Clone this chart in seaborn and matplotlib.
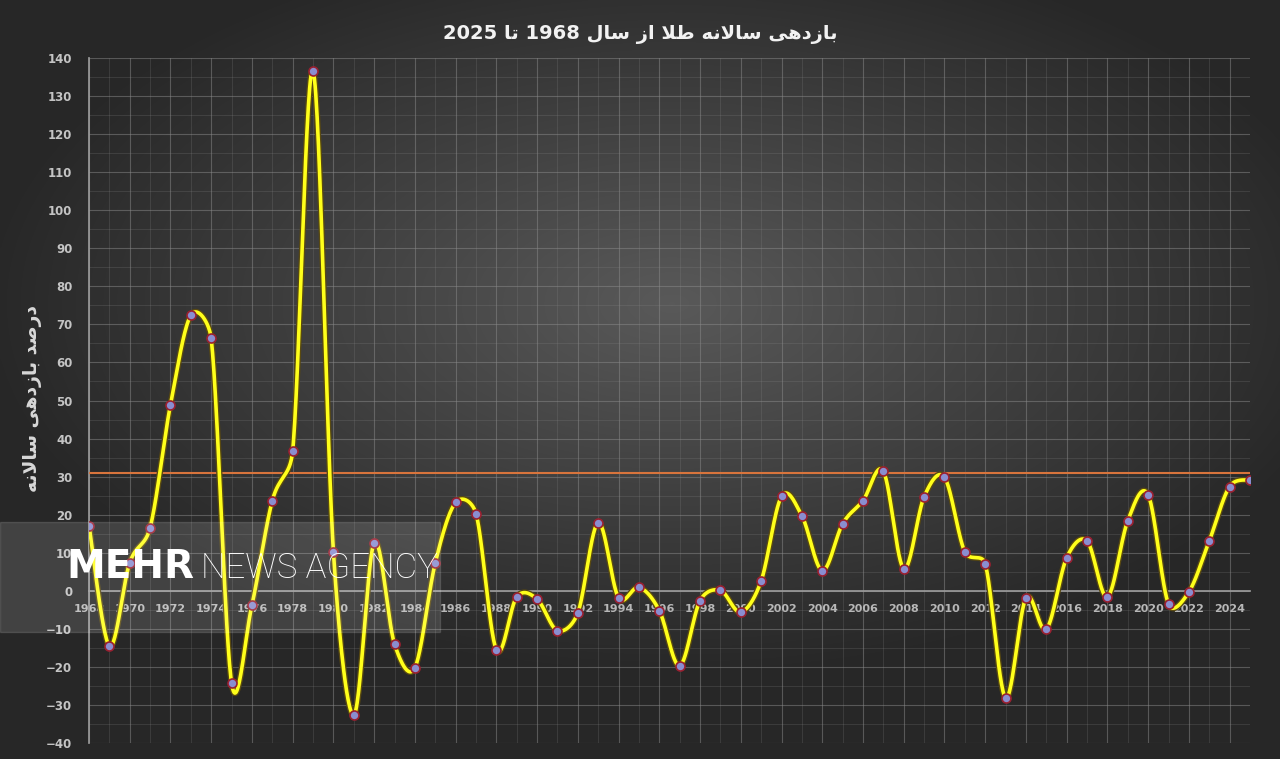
import re
import numpy as np
import pandas as pd
import seaborn as sns
import matplotlib.pyplot as plt
from matplotlib.ticker import MultipleLocator
from matplotlib.patches import Rectangle

# annual gold return (%)
years = list(range(1968, 2026))
returns = [17.1, -14.5, 7.4, 16.6, 48.9, 72.4, 66.3, -24.2, -3.7, 23.7,
           36.8, 136.6, 10.3, -32.6, 12.6, -14.0, -20.2, 7.3, 23.2, 20.3,
           -15.5, -1.6, -2.2, -10.5, -5.8, 17.9, -1.9, 0.9, -5.2, -19.7,
           -2.6, 0.1, -5.6, 2.6, 24.8, 19.7, 5.3, 17.6, 23.7, 31.4,
           5.8, 24.7, 29.8, 10.2, 7.1, -28.1, -1.9, -10.1, 8.7, 13.1,
           -1.6, 18.4, 25.2, -3.5, -0.3, 13.1, 27.4, 29.2]
mean_line = 31.0
title = 'بازدهی سالانه طلا از سال 1968 تا 2025'
ylabel = 'درصد بازدهی سالانه'

# minimal persian shaping, matplotlib has no bidi / joining
FORMS = {
    'ا': ('\uFE8D', '\uFE8E', None, None),
    'ب': ('\uFE8F', '\uFE90', '\uFE91', '\uFE92'),
    'ت': ('\uFE95', '\uFE96', '\uFE97', '\uFE98'),
    'د': ('\uFEA9', '\uFEAA', None, None),
    'ر': ('\uFEAD', '\uFEAE', None, None),
    'ز': ('\uFEAF', '\uFEB0', None, None),
    'س': ('\uFEB1', '\uFEB2', '\uFEB3', '\uFEB4'),
    'ص': ('\uFEB9', '\uFEBA', '\uFEBB', '\uFEBC'),
    'ط': ('\uFEC1', '\uFEC2', '\uFEC3', '\uFEC4'),
    'ل': ('\uFEDD', '\uFEDE', '\uFEDF', '\uFEE0'),
    'ن': ('\uFEE5', '\uFEE6', '\uFEE7', '\uFEE8'),
    'ه': ('\uFEE9', '\uFEEA', '\uFEEB', '\uFEEC'),
    'ی': ('\uFEEF', '\uFEF0', '\uFEF3', '\uFEF4'),
    'LA': ('\uFEFB', '\uFEFC', None, None),
}


def shape(text):
    chars = []
    i = 0
    while i < len(text):
        if text[i] == 'ل' and i + 1 < len(text) and text[i + 1] == 'ا':
            chars.append('LA')
            i += 2
        else:
            chars.append(text[i])
            i += 1
    out = []
    for k, c in enumerate(chars):
        if c not in FORMS:
            out.append(c)
            continue
        prev = chars[k - 1] if k > 0 else None
        nxt = chars[k + 1] if k + 1 < len(chars) else None
        p = prev in FORMS and FORMS[prev][2] is not None
        n = nxt in FORMS and FORMS[c][2] is not None
        f = FORMS[c]
        if p and n:
            out.append(f[3])
        elif p:
            out.append(f[1])
        elif n:
            out.append(f[2])
        else:
            out.append(f[0])
    vis = ''.join(out)[::-1]
    return re.sub(r'\d+', lambda m: m.group(0)[::-1], vis)


def smooth(x, y, sx=20.35, sy=3.8, n=30):
    # excel style smoothed line: bezier arms = 1/6 of neighbour chord,
    # capped at half of the segment length (measured in pixels)
    x = np.asarray(x, float)
    y = np.asarray(y, float)
    P = np.c_[np.r_[x[0], x, x[-1]], np.r_[y[0], y, y[-1]]]

    def plen(v):
        return np.hypot(v[0] * sx, v[1] * sy) + 1e-9

    xs, ys = [], []
    t = np.linspace(0, 1, n, endpoint=False)
    for i in range(1, len(P) - 2):
        p0, p1, p2, p3 = P[i - 1], P[i], P[i + 1], P[i + 2]
        half = plen(p2 - p1) / 2
        a1 = (p2 - p0) / 6
        a2 = (p3 - p1) / 6
        if plen(a1) > half:
            a1 = a1 * half / plen(a1)
        if plen(a2) > half:
            a2 = a2 * half / plen(a2)
        c1 = p1 + a1
        c2 = p2 - a2
        b = ((1 - t) ** 3)[:, None] * p1 + (3 * (1 - t) ** 2 * t)[:, None] * c1 \
            + (3 * (1 - t) * t ** 2)[:, None] * c2 + (t ** 3)[:, None] * p2
        xs.append(b[:, 0])
        ys.append(b[:, 1])
    xs.append([x[-1]])
    ys.append([y[-1]])
    return np.concatenate(xs), np.concatenate(ys)


sns.set_theme(style='dark')
plt.rcParams['font.family'] = ['DejaVu Sans']

df = pd.DataFrame({'year': years, 'ret': returns})
cx, cy = smooth(years, returns)
curve = pd.DataFrame({'year': cx, 'ret': cy})

fig = plt.figure(figsize=(12.8, 7.59), dpi=100)

# radial grey background
bg = fig.add_axes([0, 0, 1, 1], zorder=-10)
gx, gy = np.meshgrid(np.linspace(-1, 1, 640), np.linspace(-1, 1, 380))
r = np.sqrt(((gx - 0.05) / 1.1) ** 2 + ((gy + 0.2) / 1.0) ** 2)
g = np.clip(0.35 - 0.2 * r, 0.155, 0.35)
bg.imshow(np.dstack([g, g, g]), aspect='auto', extent=[0, 1, 0, 1], interpolation='bilinear')
bg.axis('off')

ax = fig.add_axes([89 / 1280, 1 - 743 / 759, (1250 - 89) / 1280, (743 - 58) / 759])
ax.set_facecolor('none')

ax.set_xlim(1968, 2025)
ax.set_ylim(-40, 140)
ax.xaxis.set_major_locator(MultipleLocator(2))
ax.xaxis.set_minor_locator(MultipleLocator(1))
ax.yaxis.set_major_locator(MultipleLocator(10))
ax.yaxis.set_minor_locator(MultipleLocator(5))
ax.grid(which='major', color='#8a8a8a', lw=0.8, alpha=0.5)
ax.grid(which='minor', color='#8a8a8a', lw=0.6, alpha=0.25)
ax.set_axisbelow(True)

for s in ['top', 'right']:
    ax.spines[s].set_visible(False)
ax.spines['bottom'].set_position(('data', 0))
ax.spines['bottom'].set_color('#9a9a9a')
ax.spines['left'].set_color('#9a9a9a')
ax.tick_params(axis='x', which='both', direction='inout', length=7, color='#9a9a9a',
               labelsize=8, labelcolor='#b8b8b8', pad=6)
ax.tick_params(axis='y', which='major', direction='inout', length=8, color='#9a9a9a',
               labelsize=8.5, labelcolor='#c4c4c4', pad=8)
ax.tick_params(axis='y', which='minor', direction='inout', length=6, color='#9a9a9a')
for lab in ax.get_yticklabels() + ax.get_xticklabels():
    lab.set_fontweight('bold')

ax.axhline(mean_line, color='#d8743c', lw=1.5, zorder=3)

sns.lineplot(data=curve, x='year', y='ret', ax=ax, color='#5a4a10', lw=4.5,
             sort=False, estimator=None, zorder=4)
sns.lineplot(data=curve, x='year', y='ret', ax=ax, color='#ffff1a', lw=2.6,
             sort=False, estimator=None, zorder=5)
sns.scatterplot(data=df, x='year', y='ret', ax=ax, s=42, color='#8a8ed0',
                edgecolor='#9a2030', linewidth=1.2, zorder=6)
ax.set_xlabel('')
ax.set_ylabel('')

fig.text(0.5, 1 - 35 / 759, shape(title), ha='center', va='center',
         fontsize=14, fontweight='bold', color='#f2f2f2')
fig.text(33 / 1280, 1 - 398 / 759, shape(ylabel), ha='center', va='center',
         rotation=90, fontsize=13.5, fontweight='bold', color='#d8d8d8')

# watermark band
fig.patches.append(Rectangle((0, 1 - 632 / 759), 440 / 1280, 110 / 759,
                             transform=fig.transFigure, color='white', alpha=0.13,
                             zorder=10))
fig.text(66 / 1280, 1 - 578 / 759, 'MEHR', ha='left', va='baseline', fontsize=28,
         fontweight='bold', color='white', zorder=11)
fig.text(201 / 1280, 1 - 578 / 759, 'NEWS AGENCY', ha='left', va='baseline',
         fontsize=25, family='Roboto', fontweight='light', color='white', zorder=11)

fig.savefig('out.png', dpi=100)
